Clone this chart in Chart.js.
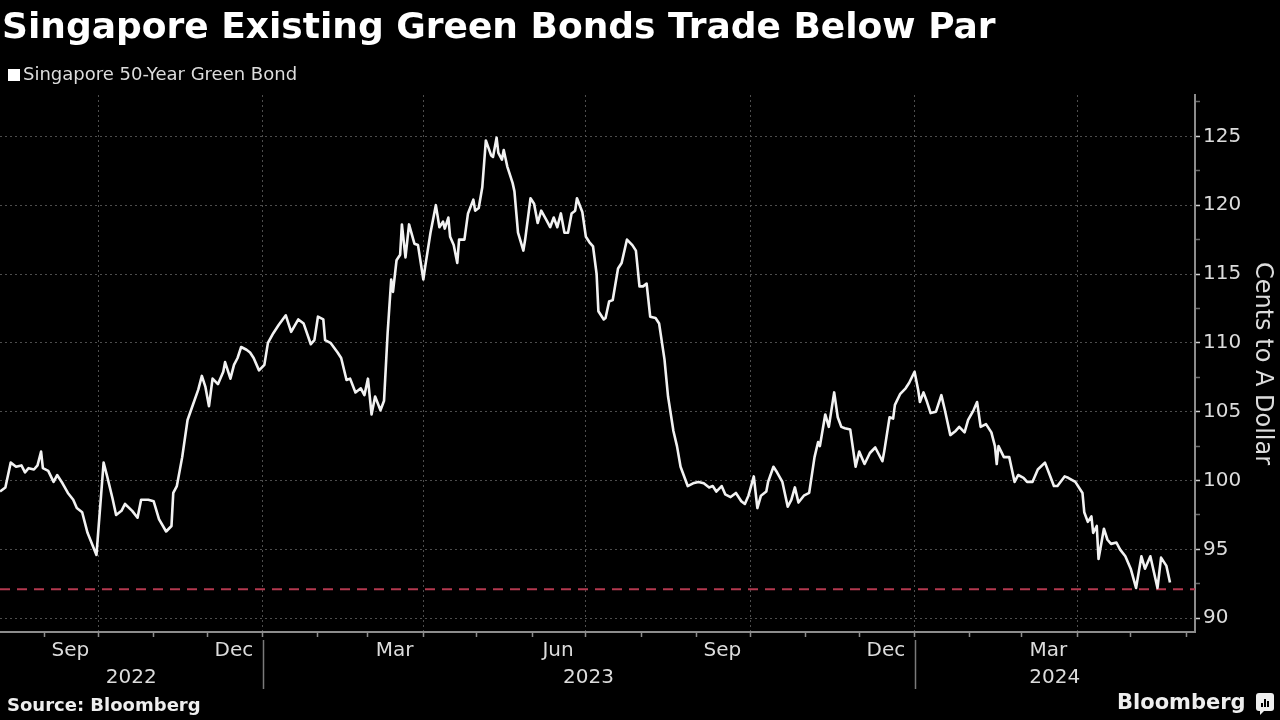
<!DOCTYPE html>
<html>
<head>
<meta charset="utf-8">
<script src="https://cdn.jsdelivr.net/npm/chart.js@4.4.1/dist/chart.umd.min.js"></script>
<style>
  html, body { margin: 0; padding: 0; background: #000; }
  #wrap { position: relative; width: 1280px; height: 720px; overflow: hidden; background: #000; }
  #chart { position: absolute; left: 0; top: 0; }
  .title { position: absolute; left: 2px; top: 5px; font: bold 36px "DejaVu Sans"; color: #fff; white-space: nowrap; }
  .legend { position: absolute; left: 8px; top: 63px; font: 18px "DejaVu Sans"; color: #ddd; white-space: nowrap; }
  .legend i { display: inline-block; width: 12px; height: 12px; background: #fff; margin-right: 3px; vertical-align: -1px; }
  .source { position: absolute; left: 7px; top: 694px; font: bold 18px "DejaVu Sans"; color: #eee; white-space: nowrap; }
  .brand { position: absolute; left: 1117px; top: 690px; font: bold 21px "DejaVu Sans"; color: #eee; white-space: nowrap; }
  .logo { position: absolute; left: 1256px; top: 693px; width: 18px; height: 18px; background: #eee; border-radius: 3px; }
  .logo:after { content: ""; position: absolute; left: 4px; bottom: -4px; border-left: 4px solid #eee; border-bottom: 4px solid transparent; }
  .logo b { position: absolute; bottom: 4px; width: 2px; background: #000; }
</style>
</head>
<body>
<div id="wrap">
  <canvas id="chart" width="1280" height="720"></canvas>
  <div class="title">Singapore Existing Green Bonds Trade Below Par</div>
  <div class="legend"><i></i>Singapore 50-Year Green Bond</div>
  <div class="source">Source: Bloomberg</div>
  <div class="brand">Bloomberg</div>
  <div class="logo"><b style="left:5px;height:4px"></b><b style="left:8px;height:8px"></b><b style="left:11px;height:6px"></b></div>
</div>
<script>
// days since 2022-09-01
const days = [
  -25, -22, -19, -16, -13, -11, -9, -6, -4, -2, -1, 2, 5, 7, 10, 13, 16, 18, 21, 24,
  29, 33, 35, 38, 40, 43, 45, 49, 52, 54, 58, 61, 64, 68, 71, 72, 74, 77, 80, 83,
  86, 88, 90, 92, 94, 97, 100, 101, 104, 106, 108, 110, 113, 115, 117, 120, 123, 125, 128, 131,
  135, 138, 142, 145, 149, 151, 153, 156, 157, 160, 164, 166, 169, 171, 174, 177, 179, 181, 183, 185,
  188, 190, 192, 194, 195, 197, 199, 200, 202, 204, 207, 209, 212, 213, 216, 219, 221, 223, 224, 226,
  227, 229, 231, 232, 235, 237, 240, 241, 243, 245, 247, 250, 251, 253, 254, 256, 257, 259, 262, 263,
  265, 268, 269, 272, 274, 276, 278, 281, 283, 285, 287, 289, 291, 293, 295, 297, 298, 301, 303, 305,
  307, 309, 310, 313, 314, 316, 318, 321, 323, 326, 329, 331, 333, 335, 337, 339, 342, 344, 347, 349,
  352, 354, 356, 360, 363, 366, 369, 372, 374, 376, 379, 381, 384, 387, 390, 392, 394, 397, 399, 401,
  404, 405, 408, 410, 413, 416, 418, 420, 422, 425, 428, 431, 433, 434, 437, 439, 442, 444, 446, 448,
  451, 454, 456, 459, 462, 465, 469, 470, 473, 475, 476, 479, 482, 484, 487, 489, 490, 492, 494, 496,
  499, 502, 504, 507, 510, 512, 515, 517, 520, 522, 524, 527, 530, 532, 533, 534, 537, 540, 543, 545,
  548, 550, 553, 556, 560, 563, 565, 567, 571, 573, 577, 581, 582, 584, 586, 587, 589, 590, 593, 595,
  597, 600, 602, 605, 608, 611, 614, 616, 619, 623, 625, 628, 630
];

const prices = [
  99.2, 99.5, 101.3, 101.0, 101.1, 100.6, 100.9, 100.8, 101.1, 102.1, 100.9, 100.7, 99.9, 100.4, 99.8, 99.1, 98.6, 98.0, 97.7, 96.2,
  94.6, 101.3, 100.3, 98.7, 97.5, 97.8, 98.3, 97.8, 97.3, 98.6, 98.6, 98.5, 97.2, 96.3, 96.7, 99.1, 99.6, 101.7, 104.4, 105.5,
  106.6, 107.6, 106.8, 105.4, 107.4, 107.0, 107.9, 108.6, 107.4, 108.4, 108.9, 109.7, 109.5, 109.3, 108.9, 108.0, 108.4, 110.0, 110.7, 111.3,
  112.0, 110.8, 111.7, 111.4, 109.9, 110.2, 111.9, 111.7, 110.2, 110.0, 109.3, 108.9, 107.3, 107.4, 106.4, 106.7, 106.2, 107.4, 104.8, 106.1,
  105.1, 105.8, 110.7, 114.6, 113.7, 116.0, 116.4, 118.6, 116.2, 118.6, 117.2, 117.1, 114.6, 115.5, 118.0, 120.0, 118.4, 118.8, 118.3, 119.1,
  117.7, 117.1, 115.8, 117.5, 117.5, 119.4, 120.4, 119.6, 119.8, 121.3, 124.7, 123.6, 123.5, 124.9, 123.8, 123.3, 124.0, 122.8, 121.6, 121.0,
  118.0, 116.7, 117.5, 120.5, 120.1, 118.7, 119.6, 118.9, 118.4, 119.1, 118.4, 119.4, 118.0, 118.0, 119.4, 119.6, 120.5, 119.5, 117.7, 117.3,
  117.0, 115.0, 112.3, 111.7, 111.8, 113.0, 113.1, 115.4, 115.8, 117.5, 117.1, 116.7, 114.1, 114.1, 114.3, 111.9, 111.8, 111.4, 108.8, 106.1,
  103.6, 102.5, 101.0, 99.6, 99.8, 99.9, 99.8, 99.5, 99.6, 99.2, 99.6, 99.0, 98.8, 99.1, 98.5, 98.3, 98.9, 100.3, 98.0, 98.9,
  99.2, 99.9, 101.0, 100.6, 99.9, 98.1, 98.6, 99.5, 98.4, 98.9, 99.1, 101.7, 102.8, 102.5, 104.8, 103.9, 106.4, 104.6, 103.9, 103.8,
  103.7, 101.0, 102.1, 101.2, 102.0, 102.4, 101.4, 102.1, 104.6, 104.5, 105.5, 106.3, 106.7, 107.1, 107.9, 106.6, 105.7, 106.4, 105.7, 104.9,
  105.0, 106.2, 105.1, 103.3, 103.6, 103.9, 103.5, 104.4, 105.1, 105.7, 103.9, 104.1, 103.5, 102.5, 101.2, 102.5, 101.7, 101.7, 99.9, 100.4,
  100.2, 99.9, 99.9, 100.8, 101.3, 100.3, 99.6, 99.6, 100.3, 100.2, 99.9, 99.1, 97.7, 97.0, 97.4, 96.2, 96.7, 94.3, 96.5, 95.7,
  95.4, 95.5, 95.0, 94.5, 93.6, 92.2, 94.5, 93.6, 94.5, 92.2, 94.4, 93.8, 92.6
];

const referenceLevel = 92.1;

const yTicks = [90, 92.5, 95, 97.5, 100, 102.5, 105, 107.5, 110, 112.5, 115, 117.5, 120, 122.5, 125, 127.5];
const monthLabels = ['Sep', 'Dec', 'Mar', 'Jun', 'Sep', 'Dec', 'Mar'];
const monthLabelStarts = ['2022-09', '2022-12', '2023-03', '2023-06', '2023-09', '2023-12', '2024-03'];
const yearLabels = ['2022', '2023', '2024'];

const epoch = Date.UTC(2022, 8, 1);
const xMin = -25;
const xMax = 644;

function dayOf(y, m) {
    return (Date.UTC(y, m, 1) - epoch) / 86400000;
}
function dayOfKey(key) {
    const [y, m] = key.split('-').map(Number);
    return dayOf(y, m - 1);
}

// every month start on the axis, and the quarter starts that carry grid lines
const monthTicks = [];
const quarterTicks = new Set();
for (let y = 2022, m = 8; dayOf(y, m) <= xMax; m++) {
    if (m > 11) { m = 0; y++; }
    const d = dayOf(y, m);
    monthTicks.push(d);
    if (m % 3 === 0) quarterTicks.add(d);
}

const axisGray = '#8c8c8c';
const gridGray = '#4d4d4d';
const textColor = '#dcdcdc';

const bottomLabels = {
    id: 'bottomLabels',
    afterDraw(chart) {
        const {ctx, chartArea} = chart;
        const x = chart.scales.x;
        const base = chartArea.bottom;
        ctx.save();
        ctx.fillStyle = textColor;
        ctx.font = '20px "DejaVu Sans"';
        ctx.textAlign = 'center';
        ctx.textBaseline = 'middle';

        monthLabels.forEach((label, i) => {
            const start = dayOfKey(monthLabelStarts[i]);
            const [y, m] = monthLabelStarts[i].split('-').map(Number);
            const end = dayOf(y, m); // next month start
            const px = (x.getPixelForValue(start) + x.getPixelForValue(end)) / 2;
            ctx.fillText(label, px - 1, base + 19);
        });

        const bounds = [xMin, dayOf(2023, 0), dayOf(2024, 0), xMax];
        yearLabels.forEach((label, i) => {
            const px = (x.getPixelForValue(bounds[i]) + x.getPixelForValue(bounds[i + 1])) / 2;
            ctx.fillText(label, px, base + 46);
        });

        // year separators
        ctx.strokeStyle = '#7a7a7a';
        ctx.lineWidth = 1.5;
        [bounds[1], bounds[2]].forEach(d => {
            const px = Math.round(x.getPixelForValue(d)) + 0.5;
            ctx.beginPath();
            ctx.moveTo(px, base + 8);
            ctx.lineTo(px, base + 57);
            ctx.stroke();
        });
        ctx.restore();
    }
};

new Chart(document.getElementById('chart'), {
    type: 'line',
    data: {
        datasets: [{
            label: 'Singapore 50-Year Green Bond',
            data: days.map((d, i) => ({x: d, y: prices[i]})),
            borderColor: '#f2f2f2',
            borderWidth: 2.6,
            borderJoinStyle: 'round',
            pointRadius: 0,
            tension: 0,
            order: 0
        }, {
            label: 'Reference',
            data: [{x: xMin, y: referenceLevel}, {x: xMax, y: referenceLevel}],
            borderColor: '#b3394f',
            borderWidth: 2,
            borderDash: [10, 7],
            pointRadius: 0,
            order: 1
        }]
    },
    options: {
        responsive: false,
        animation: false,
        devicePixelRatio: 1,
        layout: {
            padding: {top: 95, left: 0, right: 0, bottom: 0}
        },
        plugins: {
            legend: {display: false},
            tooltip: {enabled: false}
        },
        scales: {
            x: {
                type: 'linear',
                min: xMin,
                max: xMax,
                afterBuildTicks: scale => {
                    scale.ticks = monthTicks.map(v => ({value: v}));
                },
                afterFit: scale => {
                    scale.height = 88;
                },
                ticks: {display: false},
                grid: {
                    color: c => (c.tick && quarterTicks.has(c.tick.value)) ? gridGray : 'transparent',
                    lineWidth: 1,
                    tickColor: axisGray,
                    tickLength: 5,
                    tickWidth: 1.5
                },
                border: {
                    color: axisGray,
                    width: 2,
                    dash: [2, 3]
                }
            },
            y: {
                position: 'right',
                min: 89,
                max: 128,
                afterBuildTicks: scale => {
                    scale.ticks = yTicks.map(v => ({value: v}));
                },
                afterFit: scale => {
                    scale.width = 85;
                },
                ticks: {
                    color: textColor,
                    font: {family: 'DejaVu Sans', size: 20},
                    padding: 3,
                    callback: v => (v % 5 === 0 ? String(v) : '')
                },
                grid: {
                    color: c => (c.tick && c.tick.value % 5 === 0) ? gridGray : 'transparent',
                    lineWidth: 1,
                    tickColor: c => (c.tick && c.tick.value % 5 === 0) ? '#d0d0d0' : '#6a6a6a',
                    tickLength: 5,
                    tickWidth: 1.5
                },
                border: {
                    color: axisGray,
                    width: 2,
                    dash: [2, 3]
                },
                title: {
                    display: true,
                    text: 'Cents to A Dollar',
                    color: textColor,
                    font: {family: 'DejaVu Sans', size: 24},
                    padding: {top: 3, bottom: 0}
                }
            }
        }
    },
    plugins: [bottomLabels]
});
</script>
</body>
</html>
